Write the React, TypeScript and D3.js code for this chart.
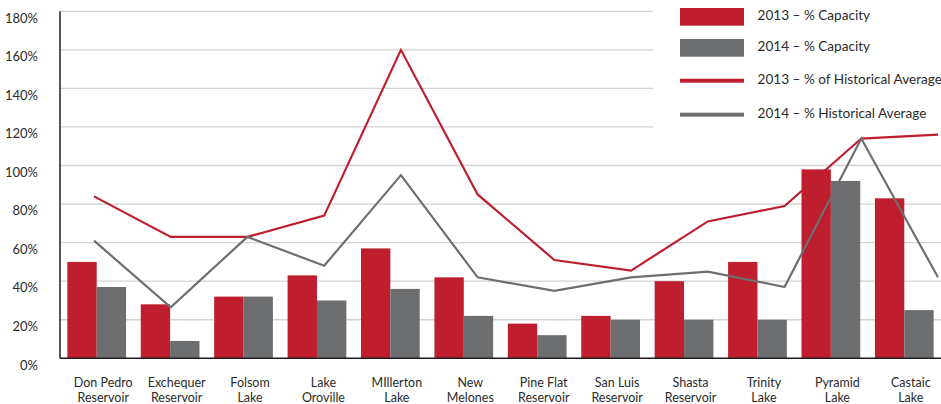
import React from "react";
import * as d3 from "d3";

const categories: string[][] = [
  ["Don Pedro", "Reservoir"],
  ["Exchequer", "Reservoir"],
  ["Folsom", "Lake"],
  ["Lake", "Oroville"],
  ["MIllerton", "Lake"],
  ["New", "Melones"],
  ["Pine Flat", "Reservoir"],
  ["San Luis", "Reservoir"],
  ["Shasta", "Reservoir"],
  ["Trinity", "Lake"],
  ["Pyramid", "Lake"],
  ["Castaic", "Lake"],
];

const capacity2013: number[] = [50, 28, 32, 43, 57, 42, 18, 22, 40, 50, 98, 83];
const capacity2014: number[] = [37, 9, 32, 30, 36, 22, 12, 20, 20, 20, 92, 25];
const histAvg2013: number[] = [84, 63, 63, 74, 160, 85, 51, 45.5, 71, 79, 114, 116];
const histAvg2014: number[] = [61, 26.5, 63, 48, 95, 42, 35, 42, 45, 37, 114, 42];

const yTicks: number[] = [0, 20, 40, 60, 80, 100, 120, 140, 160, 180];

const legendItems = [
  { label: "2013 – % Capacity", kind: "bar", color: "#BE1E2D" },
  { label: "2014 – % Capacity", kind: "bar", color: "#6D6E70" },
  { label: "2013 – % of Historical Average", kind: "line", color: "#BE1E2D" },
  { label: "2014 – % Historical Average", kind: "line", color: "#6D6E70" },
];

const RED = "#BE1E2D";
const GRAY = "#6D6E70";
const TEXT = "#2B2B2B";
const FONT = "Lato, 'Open Sans', sans-serif";

export default function App() {
  const width = 941;
  const height = 404;
  const left = 60;
  const right = 941;
  const top = 11.3;
  const bottom = 358.3;

  const keys = categories.map((c) => c.join(" "));

  const x = d3.scaleBand<string>().domain(keys).range([left, right]).padding(0);
  const inner = d3
    .scaleBand<string>()
    .domain(["2013", "2014"])
    .range([0, x.bandwidth()])
    .paddingOuter(0.25)
    .paddingInner(0);
  const xLine = d3.scalePoint<string>().domain(keys).range([94, 938]);
  const y = d3.scaleLinear().domain([0, 180]).range([bottom, top]);

  const line = d3
    .line<number>()
    .x((_, i) => xLine(keys[i]) as number)
    .y((d) => y(d));

  return (
    <svg width={width} height={height} style={{ position: "absolute", left: 0, top: 0 }}>
      <rect x={0} y={0} width={width} height={height} fill="#fff" />
      {/* gridlines */}
      {yTicks.map((t) => (
        <line
          key={"g" + t}
          x1={left}
          x2={right}
          y1={y(t)}
          y2={y(t)}
          stroke="#D3D3D3"
          strokeWidth={1.3}
        />
      ))}
      {/* y tick labels */}
      {yTicks.map((t) => (
        <text
          key={"t" + t}
          x={38}
          y={y(t) + 8}
          textAnchor="end"
          dominantBaseline="middle"
          fontFamily={FONT}
          fontSize={13}
          fill={TEXT}
        >
          {t + "%"}
        </text>
      ))}
      {/* bars */}
      {keys.map((k, i) => (
        <g key={"b" + k} transform={`translate(${x(k)},0)`}>
          <rect
            x={inner("2013")}
            y={y(capacity2013[i])}
            width={inner.bandwidth()}
            height={bottom - y(capacity2013[i])}
            fill={RED}
          />
          <rect
            x={inner("2014")}
            y={y(capacity2014[i])}
            width={inner.bandwidth()}
            height={bottom - y(capacity2014[i])}
            fill={GRAY}
          />
        </g>
      ))}
      {/* lines */}
      <path d={line(histAvg2013) || ""} fill="none" stroke={RED} strokeWidth={2.2} />
      <path d={line(histAvg2014) || ""} fill="none" stroke={GRAY} strokeWidth={2.2} />
      {/* axes */}
      <line x1={left} x2={left} y1={top} y2={bottom} stroke="#231F20" strokeWidth={1.5} />
      <line x1={left} x2={right} y1={bottom} y2={bottom} stroke="#231F20" strokeWidth={1.5} />
      {/* category labels, two lines each */}
      {categories.map((c, i) => {
        const cx = (x(keys[i]) as number) + x.bandwidth() / 2 + 6.5;
        return (
          <g key={"c" + i} fontFamily={FONT} fontSize={12.5} fill={TEXT} textAnchor="middle">
            <text x={cx} y={386.5}>{c[0]}</text>
            <text x={cx} y={401.5}>{c[1]}</text>
          </g>
        );
      })}
      {/* legend */}
      <rect x={653} y={0} width={288} height={131} fill="#fff" />
      {legendItems.map((item, i) => {
        const cy = [16.8, 47.8, 80.7, 114.7][i];
        return (
          <g key={"l" + i}>
            {item.kind === "bar" ? (
              <rect x={680} y={cy - 8.8} width={64} height={17.7} fill={item.color} />
            ) : (
              <rect x={680} y={cy - 2} width={64} height={4} fill={item.color} />
            )}
            <text
              x={757.5}
              y={cy}
              dominantBaseline="middle"
              fontFamily={FONT}
              fontSize={13.6}
              fill={TEXT}
            >
              {item.label}
            </text>
          </g>
        );
      })}
    </svg>
  );
}
